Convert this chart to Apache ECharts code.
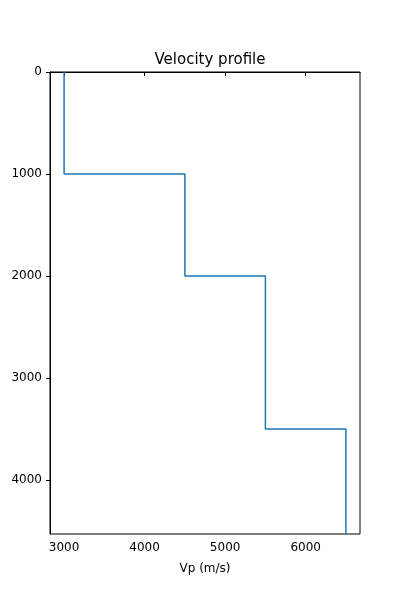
<!DOCTYPE html>
<html>
<head>
<meta charset="utf-8">
<script src="https://cdn.jsdelivr.net/npm/echarts@6/dist/echarts.min.js"></script>
<style>html,body{margin:0;padding:0;background:#fff}#chart{width:400px;height:600px}</style>
</head>
<body>
<div id="chart"></div>
<script>
// layer velocities and layer boundary depths
const velocities = [3000, 4500, 5500, 6500];
const depths = [0, 1000, 2000, 3500, 4530];
const xTicks = [3000, 4000, 5000, 6000];
const yTicks = [0, 1000, 2000, 3000, 4000];

// build step profile points
let points = [];
for (let i = 0; i < velocities.length; i++) {
    points.push([velocities[i], depths[i]]);
    points.push([velocities[i], depths[i + 1]]);
}

const font = 'DejaVu Sans';
const plain = v => String(v);
let chart = echarts.init(document.getElementById('chart'));
chart.setOption({
    animation: false,
    title: {
        text: 'Velocity profile', left: 205, top: 48, textAlign: 'center',
        textStyle: { fontFamily: font, fontSize: 15, fontWeight: 'normal', color: '#000' }
    },
    grid: { left: 50, right: 40, top: 72, bottom: 66, show: true, borderColor: '#000', borderWidth: 1 },
    xAxis: {
        type: 'value', min: 2825, max: 6675,
        name: 'Vp (m/s)', nameLocation: 'middle', nameGap: 29,
        nameTextStyle: { fontFamily: font, fontSize: 12, color: '#000' },
        axisLine: { show: true, lineStyle: { color: '#000' } },
        axisTick: { show: true, inside: false, length: 4, lineStyle: { color: '#000' }, customValues: xTicks },
        axisLabel: { fontFamily: font, fontSize: 12, color: '#000', customValues: xTicks, formatter: plain },
        splitLine: { show: false }
    },
    yAxis: {
        type: 'value', inverse: true, min: 0, max: 4530,
        axisLine: { show: true, lineStyle: { color: '#000' } },
        axisTick: { show: true, length: 4, lineStyle: { color: '#000' }, customValues: yTicks },
        axisLabel: { fontFamily: font, fontSize: 12, color: '#000', customValues: yTicks, formatter: plain },
        splitLine: { show: false }
    },
    series: [{
        type: 'line', data: points, showSymbol: false,
        lineStyle: { color: '#1f77b4', width: 1.5 }
    }]
});
</script>
</body>
</html>
